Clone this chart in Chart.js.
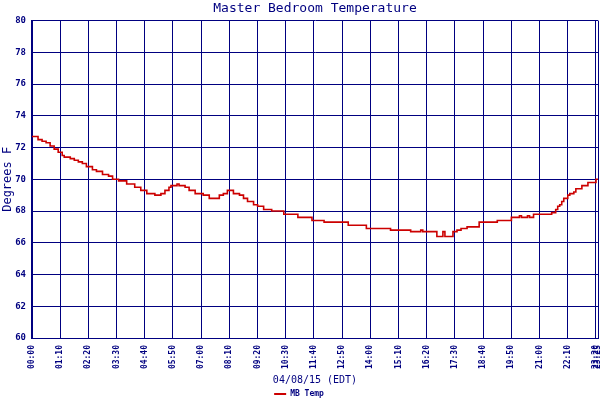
<!DOCTYPE html>
<html><head><meta charset="utf-8">
<script src="https://cdn.jsdelivr.net/npm/chart.js@4.4.1/dist/chart.umd.min.js"></script>
<style>html,body{margin:0;padding:0;background:#fff}</style>
</head><body>
<canvas id="c" width="600" height="400"></canvas>
<script>
// Change points of the reading: minutes after midnight and temperature (deg F)
const minutes = [0,15,25,35,45,55,65,75,80,95,105,115,125,135,150,160,175,190,200,215,235,255,270,285,305,320,330,340,345,360,365,380,390,405,425,440,465,475,485,500,515,525,535,550,560,575,595,625,660,695,725,785,830,890,940,965,970,1005,1020,1025,1045,1055,1065,1080,1110,1155,1190,1210,1215,1230,1235,1245,1290,1300,1305,1310,1315,1320,1330,1335,1345,1350,1365,1380,1400,1405];
const temps   = [72.7,72.5,72.4,72.3,72.1,71.9,71.7,71.5,71.4,71.3,71.2,71.1,71.0,70.8,70.6,70.5,70.3,70.2,70.0,69.9,69.7,69.5,69.3,69.1,69.0,69.1,69.3,69.5,69.6,69.7,69.6,69.5,69.3,69.1,69.0,68.8,69.0,69.1,69.3,69.1,69.0,68.8,68.6,68.4,68.3,68.1,68.0,67.8,67.6,67.4,67.3,67.1,66.9,66.8,66.7,66.8,66.7,66.4,66.7,66.4,66.7,66.8,66.9,67.0,67.3,67.4,67.6,67.7,67.6,67.7,67.6,67.8,67.9,68.1,68.3,68.4,68.6,68.8,69.0,69.1,69.2,69.4,69.6,69.8,70.0,70.0];
const xTickMinutes = [0,70,140,210,280,350,420,490,560,630,700,770,840,910,980,1050,1120,1190,1260,1330,1400,1405];
const yTickValues = [60,62,64,66,68,70,72,74,76,78,80];
const seriesName = 'MB Temp';
const chartTitle = 'Master Bedroom Temperature';
const xTitle = '04/08/15 (EDT)';
const yTitle = 'Degrees F';

const NAVY = '#000080';
const RED = '#cc0000';
const MONO = "'DejaVu Sans Mono', 'Liberation Mono', monospace";
function fmt(m){const h=Math.floor(m/60), mm=Math.round(m%60);return String(h).padStart(2,'0')+':'+String(mm).padStart(2,'0');}

new Chart(document.getElementById('c'), {
  type: 'line',
  data: {
    datasets: [{
      label: seriesName,
      data: minutes.map((m,i)=>({x:m, y:temps[i]})),
      borderColor: RED,
      backgroundColor: RED,
      borderWidth: 1.6,
      pointRadius: 0,
      stepped: true,
      tension: 0,
      fill: false
    }]
  },
  options: {
    responsive: false,
    animation: false,
    devicePixelRatio: 1,
    layout: {padding: {left: 0, right: 2, top: 0, bottom: 0}},
    plugins: {
      title: {display: true, text: chartTitle, color: NAVY, fullSize: false,
        font: {family: MONO, size: 13, weight: 'normal'}, padding: {top: 1, bottom: 4}},
      legend: {position: 'bottom', maxHeight: 12,
        labels: {boxWidth: 12, boxHeight: 2, padding: 2, color: NAVY,
          font: {family: MONO, size: 8, weight: 'bold'},
          generateLabels: (chart) => Chart.defaults.plugins.legend.labels.generateLabels(chart).map(l => Object.assign(l, {lineWidth: 0}))}},
      tooltip: {enabled: false}
    },
    scales: {
      x: {
        type: 'linear', min: 0, max: 1405,
        afterFit: s => { s.height = 50; s.paddingRight = 0; s.paddingLeft = 0; },
        afterBuildTicks: s => { s.ticks = xTickMinutes.map(v => ({value: v})); },
        ticks: {autoSkip: false, maxRotation: 90, minRotation: 90, padding: 7, color: NAVY,
          font: {family: MONO, size: 8, weight: 'bold'}, callback: v => fmt(v)},
        grid: {color: NAVY, lineWidth: 1, drawTicks: false},
        border: {color: NAVY, width: 1},
        title: {display: true, text: xTitle, color: NAVY, font: {family: MONO, size: 10}, padding: {top: 0, bottom: 2}}
      },
      y: {
        min: 60, max: 80,
        afterFit: s => { s.width = 32; s.paddingTop = 0; s.paddingBottom = 0; },
        afterBuildTicks: s => { s.ticks = yTickValues.map(v => ({value: v})); },
        ticks: {padding: 6, color: NAVY, font: {family: MONO, size: 9, weight: 'bold'}},
        grid: {color: NAVY, lineWidth: 1, drawTicks: false},
        border: {color: NAVY, width: 2},
        title: {display: true, text: yTitle, color: NAVY, font: {family: MONO, size: 12}, padding: {top: 1, bottom: 0}}
      }
    }
  }
});
</script>
</body></html>
